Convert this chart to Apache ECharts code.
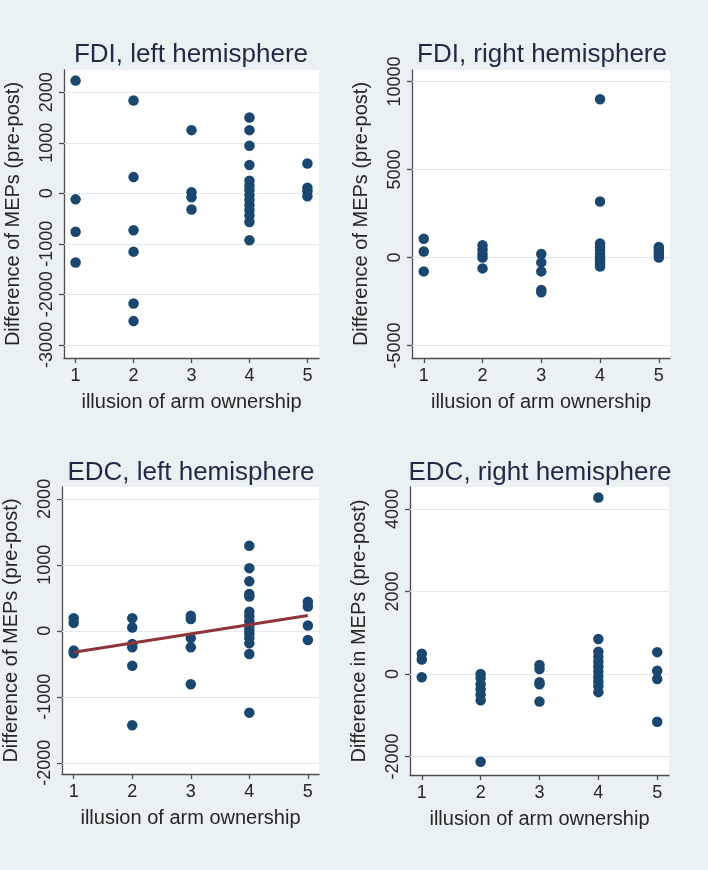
<!DOCTYPE html>
<html>
<head>
<meta charset="utf-8">
<script src="https://cdn.jsdelivr.net/npm/echarts@6/dist/echarts.min.js"></script>
<style>
html,body{margin:0;padding:0;background:#e9f1f3;}
#chart{width:708px;height:870px;}
</style>
</head>
<body>
<div id="chart"></div>
<script>
// ---- data ----
const categories = [1, 2, 3, 4, 5];
const xTicks = [1, 2, 3, 4, 5];

const titles = ['FDI, left hemisphere', 'FDI, right hemisphere', 'EDC, left hemisphere', 'EDC, right hemisphere'];
const xTitle = 'illusion of arm ownership';
const yTitles = ['Difference of MEPs (pre-post)', 'Difference of MEPs (pre-post)', 'Difference of MEPs (pre-post)', 'Difference in MEPs (pre-post)'];

// one list of y values per category (illusion score 1..5)
const fdiLeft = [
  [2230, -120, -760, -1370],
  [1835, 320, -730, -1155, -2180, -2530],
  [1250, 20, -80, -320],
  [1500, 1250, 940, 560, 250, 150, 60, -40, -130, -230, -330, -440, -570, -930],
  [590, 110, 40, -60]
];
const fdiRight = [
  [1060, 340, -790],
  [700, 450, 200, 0, -620],
  [200, -280, -790, -1850, -1980],
  [8990, 3180, 800, 600, 400, 200, 50, -100, -250, -400, -510],
  [600, 450, 300, 150, 0]
];
const edcLeft = [
  [190, 120, -300, -340],
  [190, 50, -200, -250, -530, -1430],
  [230, 180, -110, -250, -810],
  [1290, 950, 750, 560, 520, 290, 220, 150, 80, 20, -40, -110, -190, -350, -1240],
  [440, 370, 80, -140]
];
const edcRight = [
  [490, 350, -80],
  [0, -100, -250, -370, -500, -640, -2130],
  [220, 120, -200, -250, -670],
  [4280, 850, 540, 420, 300, 180, 60, -60, -180, -300, -440],
  [530, 80, -120, -1160]
];
// fitted line (EDC, left hemisphere) read at x = 1 and x = 5
const edcLeftFitX = [1, 5];
const edcLeftFitY = [-325, 232];

const fdiLeftTicks = [-3000, -2000, -1000, 0, 1000, 2000];
const fdiRightTicks = [-5000, 0, 5000, 10000];
const edcLeftTicks = [-2000, -1000, 0, 1000, 2000];
const edcRightTicks = [-2000, 0, 2000, 4000];

// ---- layout / style ----
const FONT = '"Liberation Sans", Arial, Helvetica, sans-serif';
const NAVY = '#1a476f';
const MAROON = '#90353b';
const TEXT = '#262626';
const GRID = '#e3ebee';
const AXIS = '#4d4d4d';

const panels = [
  {data: fdiLeft, ticks: fdiLeftTicks, grid: {left: 64, top: 70, width: 255, height: 288}, xr: [0.8, 5.2], yr: [-3260, 2440], tx: 186, ty: 37},
  {data: fdiRight, ticks: fdiRightTicks, grid: {left: 412, top: 70, width: 258, height: 288}, xr: [0.8, 5.19], yr: [-5710, 10650], tx: 537, ty: 37},
  {data: edcLeft, ticks: edcLeftTicks, grid: {left: 62, top: 487, width: 257, height: 287}, xr: [0.8, 5.19], yr: [-2170, 2180], tx: 186, ty: 455},
  {data: edcRight, ticks: edcRightTicks, grid: {left: 410, top: 487, width: 259, height: 288}, xr: [0.8, 5.2], yr: [-2450, 4535], tx: 535, ty: 455}
];

const plain = v => String(Math.round(v));

const option = {
  backgroundColor: '#e9f1f3',
  animation: false,
  title: [], grid: [], xAxis: [], yAxis: [], series: []
};

panels.forEach((p, i) => {
  option.title.push({
    text: titles[i], left: p.tx, top: p.ty, textAlign: 'center',
    textStyle: {fontFamily: FONT, fontSize: 26, fontWeight: 'normal', color: '#1e2a46'}
  });
  option.grid.push(Object.assign({show: true, backgroundColor: '#ffffff', borderWidth: 0, containLabel: false}, p.grid));
  option.xAxis.push({
    type: 'value', gridIndex: i, min: p.xr[0], max: p.xr[1],
    name: xTitle, nameLocation: 'middle', nameGap: 34,
    nameTextStyle: {fontFamily: FONT, fontSize: 20, color: TEXT},
    axisLine: {show: true, onZero: false, lineStyle: {color: AXIS, width: 1.3}},
    axisTick: {show: true, inside: false, length: 5, customValues: xTicks, lineStyle: {color: AXIS, width: 1.3}},
    axisLabel: {customValues: xTicks, formatter: plain, hideOverlap: false, margin: 9, fontFamily: FONT, fontSize: 18, color: TEXT},
    splitLine: {show: false}
  });
  option.yAxis.push({
    type: 'value', gridIndex: i, min: p.yr[0], max: p.yr[1],
    name: yTitles[i], nameLocation: 'middle', nameGap: 41, nameRotate: 90,
    nameTextStyle: {fontFamily: FONT, fontSize: 20, color: TEXT},
    axisLine: {show: true, onZero: false, lineStyle: {color: AXIS, width: 1.3}},
    axisTick: {show: true, inside: false, length: 5, customValues: p.ticks, lineStyle: {color: AXIS, width: 1.3}},
    axisLabel: {customValues: p.ticks, formatter: plain, hideOverlap: false, showMinLabel: true, showMaxLabel: true, rotate: 90, margin: 8, fontFamily: FONT, fontSize: 18, color: TEXT},
    splitLine: {show: false}
  });
  const pts = [];
  categories.forEach((c, k) => p.data[k].forEach(v => pts.push([c, v])));
  option.series.push({
    type: 'scatter', xAxisIndex: i, yAxisIndex: i, data: pts,
    symbol: 'circle', symbolSize: 10.5, z: 3,
    itemStyle: {color: NAVY, opacity: 1},
    markLine: {
      silent: true, symbol: ['none', 'none'], z: 1, animation: false,
      label: {show: false},
      lineStyle: {color: GRID, width: 1.2, type: 'solid'},
      emphasis: {disabled: true},
      data: p.ticks.map(t => ({yAxis: t}))
    }
  });
});

option.series.push({
  type: 'line', xAxisIndex: 2, yAxisIndex: 2, z: 5,
  data: edcLeftFitX.map((x, k) => [x, edcLeftFitY[k]]),
  symbol: 'none', lineStyle: {color: MAROON, width: 3}
});

const chart = echarts.init(document.getElementById('chart'), null, {renderer: 'canvas'});
chart.setOption(option);
</script>
</body>
</html>
